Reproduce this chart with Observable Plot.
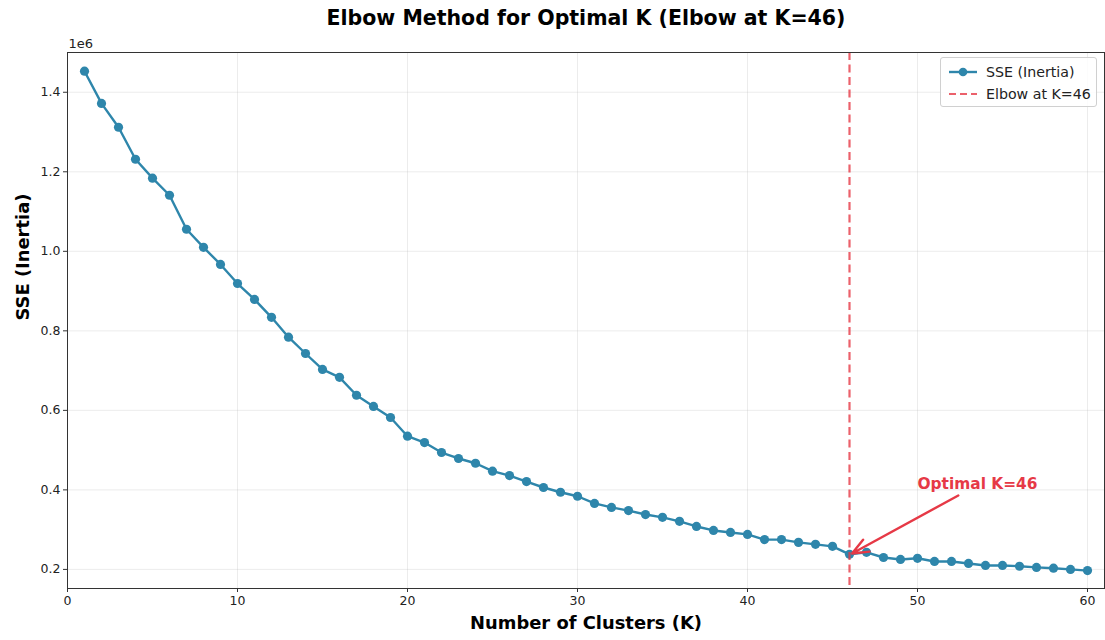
<!DOCTYPE html>
<html>
<head>
<meta charset="utf-8">
<script src="https://cdn.jsdelivr.net/npm/d3@7"></script>
<script src="https://cdn.jsdelivr.net/npm/@observablehq/plot@0.6"></script>
<style>
  html, body { margin: 0; padding: 0; background: #fff; }
  #wrap { position: relative; width: 1105px; height: 640px; font-family: "DejaVu Sans", sans-serif; }
  #legend { position: absolute; left: 940px; top: 57px; width: 157px; height: 50px;
            border: 1px solid #d0d0d0; border-radius: 3px; background: rgba(255,255,255,0.85);
            box-sizing: border-box; font-size: 14.2px; color: #222; }
  .row { position: absolute; left: 7px; height: 20px; display: flex; align-items: center; }
  .row svg { margin-right: 8px; }
</style>
</head>
<body>
<div id="wrap"></div>
<script>
// ---- data ----
const clusters = d3.range(1, 61);
const sse = [
  1453000, 1372000, 1312000, 1231500, 1184000, 1141000, 1055500, 1010000, 967000, 919000,
  879000, 834000, 784000, 743000, 703000, 683000, 638000, 610000, 582000, 535000,
  519000, 494000, 479000, 467000, 447000, 436000, 421000, 406000, 394000, 384000,
  366000, 356000, 348000, 338000, 331000, 321000, 308000, 298000, 293000, 288000,
  275000, 275000, 268000, 263000, 258000, 238000, 243000, 230000, 225000, 228000,
  220000, 220000, 215000, 210000, 210000, 208000, 205000, 203000, 200000, 197000
];
const elbowK = 46;
const xTicks = [0, 10, 20, 30, 40, 50, 60];
const yTicks = [200000, 400000, 600000, 800000, 1000000, 1200000, 1400000];
const annotText = ["Optimal K=46"];
const annotTextPos = [{x: 50, y: 414000}];
const annotArrow = [{x1: 52.4, y1: 386000, x2: 46.15, y2: 240000}];
const legendLabels = ["SSE (Inertia)", "Elbow at K=46"];

const table = clusters.map((k, i) => ({k, sse: sse[i]}));

const lineColor = "#2E86AB";
const red = "#E63946";

const chart = Plot.plot({
  width: 1105,
  height: 640,
  marginLeft: 67,
  marginRight: 1,
  marginTop: 52,
  marginBottom: 52,
  style: {fontFamily: "DejaVu Sans, sans-serif", background: "#fff"},
  x: {domain: [0, 61]},
  y: {domain: [152000, 1500000]},
  marks: [
    Plot.gridX(xTicks, {stroke: "#b0b0b0", strokeOpacity: 0.3, strokeWidth: 0.8}),
    Plot.gridY(yTicks, {stroke: "#b0b0b0", strokeOpacity: 0.3, strokeWidth: 0.8}),
    Plot.axisX(xTicks, {tickSize: 4, fontSize: 12.5, tickPadding: 4, stroke: "#333", fill: "#222", label: null, tickFormat: d => String(d)}),
    Plot.axisY(yTicks, {tickSize: 4, fontSize: 12.5, tickPadding: 3, stroke: "#333", fill: "#222", label: null, tickFormat: d => (d / 1e6).toFixed(1)}),
    Plot.line(table, {x: "k", y: "sse", stroke: lineColor, strokeWidth: 2.4}),
    Plot.dot(table, {x: "k", y: "sse", r: 4.6, fill: lineColor, stroke: "none"}),
    Plot.ruleX([elbowK], {stroke: red, strokeOpacity: 0.8, strokeWidth: 2.2, strokeDasharray: "8,4.5"}),
    Plot.arrow(annotArrow, {x1: "x1", y1: "y1", x2: "x2", y2: "y2", stroke: red, strokeWidth: 2.4, headLength: 11, headAngle: 45}),
    Plot.text(annotTextPos, {x: "x", y: "y", text: () => annotText[0], textAnchor: "start", fill: red, fontSize: 15.4, fontWeight: "bold"}),
    Plot.frame({stroke: "#333", strokeWidth: 1}),
    Plot.text(["Elbow Method for Optimal K (Elbow at K=46)"], {frameAnchor: "top", lineAnchor: "middle", dy: -34, fontSize: 20.5, fontWeight: "bold", fill: "#000"}),
    Plot.text(["Number of Clusters (K)"], {frameAnchor: "bottom", lineAnchor: "middle", dy: 35, fontSize: 17.9, fontWeight: "bold", fill: "#000"}),
    Plot.text(["SSE (Inertia)"], {frameAnchor: "left", dx: -44, rotate: -90, fontSize: 17.9, fontWeight: "bold", fill: "#000"}),
    Plot.text(["1e6"], {frameAnchor: "top-left", lineAnchor: "middle", dy: -9, dx: 1, textAnchor: "start", fontSize: 13, fill: "#222"})
  ]
});

const wrap = document.getElementById("wrap");
wrap.appendChild(chart);

const legend = document.createElement("div");
legend.id = "legend";
legend.innerHTML = `
  <div class="row" style="top:4px">
    <svg width="30" height="12"><line x1="1" y1="6" x2="29" y2="6" stroke="${lineColor}" stroke-width="2.4"/><circle cx="15" cy="6" r="4.3" fill="${lineColor}"/></svg>
    <span>${legendLabels[0]}</span>
  </div>
  <div class="row" style="top:26px">
    <svg width="30" height="12"><line x1="1" y1="6" x2="29" y2="6" stroke="${red}" stroke-opacity="0.8" stroke-width="2.2" stroke-dasharray="7,4"/></svg>
    <span>${legendLabels[1]}</span>
  </div>`;
wrap.appendChild(legend);
</script>
</body>
</html>
